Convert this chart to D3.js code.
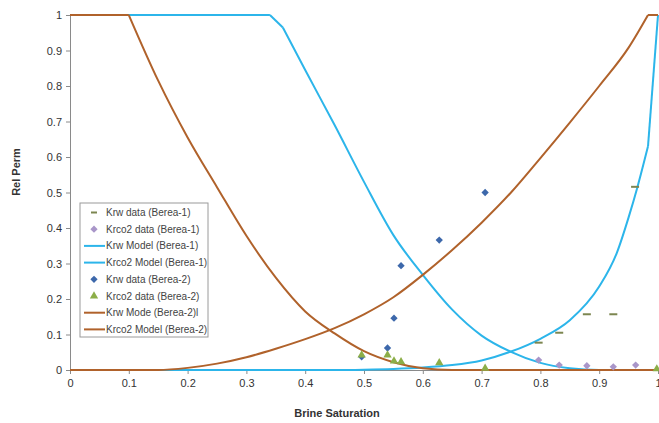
<!DOCTYPE html>
<html>
<head>
<meta charset="utf-8">
<script src="https://cdn.jsdelivr.net/npm/d3@7"></script>
<style>
  body { margin: 0; background: #fff; }
  text { font-family: Arial, "Liberation Sans", sans-serif; }
</style>
</head>
<body>
<svg></svg>
<script>
// data: [brine saturation, rel perm]
const krwDataB1 = [[0.797, 0.077], [0.832, 0.105], [0.879, 0.157], [0.924, 0.157], [0.961, 0.516]];
const krco2DataB1 = [[0.797, 0.028], [0.832, 0.014], [0.879, 0.012], [0.924, 0.009], [0.962, 0.014]];
const krwModelB1 = [[0, 0], [0.45, 0], [0.5, 0.001], [0.55, 0.003], [0.6, 0.007], [0.65, 0.014], [0.7, 0.027],
  [0.75, 0.052], [0.8, 0.088], [0.85, 0.14], [0.9, 0.235], [0.93, 0.33], [0.95, 0.43], [0.965, 0.515], [0.983, 0.63], [1, 1]];
const krco2ModelB1 = [[0, 1], [0.34, 1], [0.362, 0.965], [0.4, 0.845], [0.45, 0.69], [0.5, 0.53], [0.55, 0.38],
  [0.6, 0.268], [0.65, 0.17], [0.7, 0.097], [0.75, 0.051], [0.8, 0.02], [0.85, 0.005], [0.9, 0], [1, 0]];
const krwDataB2 = [[0.496, 0.037], [0.54, 0.062], [0.551, 0.146], [0.563, 0.294], [0.628, 0.366], [0.706, 0.5]];
const krco2DataB2 = [[0.496, 0.042], [0.54, 0.042], [0.551, 0.025], [0.563, 0.023], [0.628, 0.02], [0.706, 0.005], [0.998, 0.003]];
const krwModelB2 = [[0, 0], [0.15, 0], [0.2, 0.006], [0.25, 0.018], [0.3, 0.036], [0.35, 0.06], [0.4, 0.087],
  [0.45, 0.118], [0.5, 0.157], [0.55, 0.205], [0.6, 0.268], [0.65, 0.338], [0.7, 0.415], [0.75, 0.5],
  [0.8, 0.597], [0.85, 0.697], [0.9, 0.8], [0.95, 0.908], [0.983, 1], [1, 1]];
const krco2ModelB2 = [[0, 1], [0.1, 1], [0.15, 0.815], [0.2, 0.655], [0.25, 0.515], [0.3, 0.378], [0.35, 0.26],
  [0.4, 0.165], [0.45, 0.103], [0.5, 0.053], [0.55, 0.022], [0.6, 0.005], [0.65, 0], [1, 0]];

// saturations where a model curve has a sharp corner
const kinksKrwB1 = [0.983];
const kinksKrco2B1 = [0.34, 0.362];
const kinksKrwB2 = [0.983];
const kinksKrco2B2 = [0.1];

const xTicks = [0, 0.1, 0.2, 0.3, 0.4, 0.5, 0.6, 0.7, 0.8, 0.9, 1];
const yTicks = [0, 0.1, 0.2, 0.3, 0.4, 0.5, 0.6, 0.7, 0.8, 0.9, 1];
const legendLabels = ["Krw data (Berea-1)", "Krco2 data (Berea-1)", "Krw Model (Berea-1)", "Krco2 Model (Berea-1)",
  "Krw data (Berea-2)", "Krco2 data (Berea-2)", "Krw Mode (Berea-2)l", "Krco2 Model (Berea-2)"];

const W = 659, H = 423;
const plotLeft = 70, plotRight = 658, plotTop = 15, plotBottom = 370;

const svg = d3.select("svg").attr("width", W).attr("height", H);

const x = d3.scaleLinear().domain([0, 1]).range([plotLeft, plotRight]);
const y = d3.scaleLinear().domain([0, 1]).range([plotBottom, plotTop]);

const blue = "#2cb5ea", brown = "#b0622b";
const diamondBlue = "#3d68ab", green = "#8cae48", lilac = "#a996c9", olive = "#7c8650";

// axes
const xAxis = svg.append("g")
  .attr("transform", `translate(0,${plotBottom})`)
  .call(d3.axisBottom(x).tickValues(xTicks).tickSize(4).tickPadding(5).tickFormat(d3.format("~g")));
const yAxis = svg.append("g")
  .attr("transform", `translate(${plotLeft},0)`)
  .call(d3.axisLeft(y).tickValues(yTicks).tickSize(4).tickPadding(4).tickFormat(d3.format("~g")));
[xAxis, yAxis].forEach(g => {
  g.select(".domain").attr("stroke", "#8a8a8a");
  g.selectAll(".tick line").attr("stroke", "#8a8a8a");
  g.selectAll(".tick text").attr("fill", "#333").style("font-size", "11px").style("font-family", "Arial, 'Liberation Sans', sans-serif");
});

// axis titles
svg.append("text")
  .attr("transform", `translate(20,172) rotate(-90)`)
  .attr("text-anchor", "middle")
  .attr("font-size", 11).attr("font-weight", "bold").attr("fill", "#333")
  .text("Rel Perm");
svg.append("text")
  .attr("x", 337).attr("y", 417)
  .attr("text-anchor", "middle")
  .attr("font-size", 11).attr("font-weight", "bold").attr("fill", "#333")
  .text("Brine Saturation");

const line = d3.line().x(d => x(d[0])).y(d => y(d[1])).curve(d3.curveMonotoneX);

// split a series at its corner points so each piece is smoothed on its own
function pieces(data, kinks) {
  const out = [];
  let cur = [];
  data.forEach(d => {
    cur.push(d);
    if (kinks.includes(d[0])) { out.push(cur); cur = [d]; }
  });
  if (cur.length > 1) out.push(cur);
  return out;
}

function drawLine(data, kinks, color) {
  svg.append("g").selectAll("path")
    .data(pieces(data, kinks)).enter().append("path")
    .attr("d", line)
    .attr("fill", "none")
    .attr("stroke", color)
    .attr("stroke-width", 2)
    .attr("stroke-linejoin", "round");
}

const diamond = d3.symbol().type(d3.symbolDiamond2).size(34)();
const triangle = d3.symbol().type(d3.symbolTriangle).size(30)();

function drawSymbols(data, shape, color) {
  svg.append("g").selectAll("path")
    .data(data).enter().append("path")
    .attr("d", shape)
    .attr("transform", d => `translate(${x(d[0])},${y(d[1])})`)
    .attr("fill", color);
}

function drawDashes(data, color) {
  svg.append("g").selectAll("line")
    .data(data).enter().append("line")
    .attr("x1", d => x(d[0]) - 4).attr("x2", d => x(d[0]) + 4)
    .attr("y1", d => y(d[1])).attr("y2", d => y(d[1]))
    .attr("stroke", color).attr("stroke-width", 2);
}

drawLine(krwModelB1, kinksKrwB1, blue);
drawLine(krco2ModelB1, kinksKrco2B1, blue);
drawLine(krwModelB2, kinksKrwB2, brown);
drawLine(krco2ModelB2, kinksKrco2B2, brown);
drawDashes(krwDataB1, olive);
drawSymbols(krco2DataB1, diamond, lilac);
drawSymbols(krwDataB2, diamond, diamondBlue);
drawSymbols(krco2DataB2, triangle, green);

// legend
const legend = svg.append("g");
legend.append("rect")
  .attr("x", 80).attr("y", 203).attr("width", 128).attr("height", 134)
  .attr("fill", "#fff").attr("stroke", "#9a9a9a");

const legendKinds = ["dash", "lilac", "blue", "blue", "diamond", "triangle", "brown", "brown"];
legendLabels.forEach((label, i) => {
  const ly = 212.5 + i * 16.7;
  const k = legendKinds[i];
  if (k === "blue" || k === "brown") {
    legend.append("line").attr("x1", 84).attr("x2", 105).attr("y1", ly).attr("y2", ly)
      .attr("stroke", k === "blue" ? blue : brown).attr("stroke-width", 2);
  } else if (k === "dash") {
    legend.append("line").attr("x1", 91).attr("x2", 97).attr("y1", ly).attr("y2", ly)
      .attr("stroke", olive).attr("stroke-width", 2);
  } else {
    legend.append("path")
      .attr("d", k === "triangle" ? triangle : diamond)
      .attr("transform", `translate(94,${ly})`)
      .attr("fill", k === "lilac" ? lilac : k === "diamond" ? diamondBlue : green);
  }
  legend.append("text")
    .attr("x", 106).attr("y", ly + 3.5)
    .attr("font-size", 10).attr("fill", "#444")
    .text(label);
});
</script>
</body>
</html>
